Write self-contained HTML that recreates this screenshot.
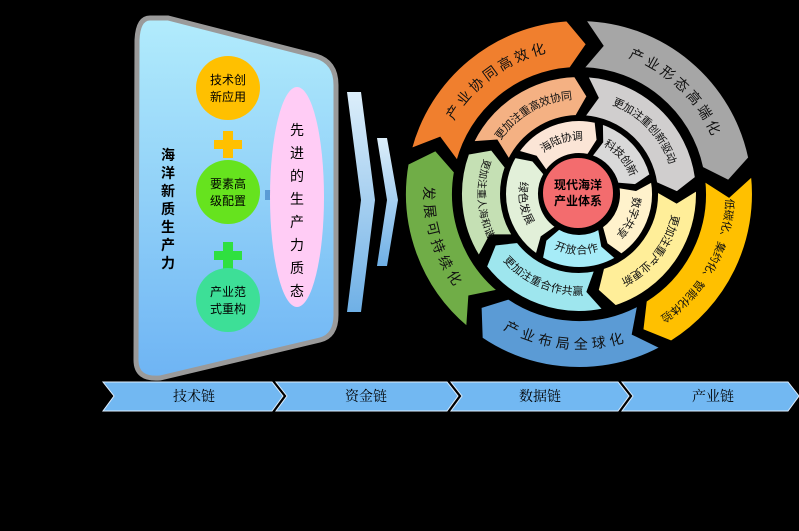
<!DOCTYPE html>
<html><head><meta charset="utf-8"><style>
html,body{margin:0;padding:0;background:#000;}
svg{display:block;font-family:"Liberation Sans","Noto Sans CJK SC",sans-serif;}
</style></head><body>
<svg id="s" width="799" height="531" viewBox="0 0 799 531" xmlns="http://www.w3.org/2000/svg">
<defs>
<linearGradient id="lp" x1="0" y1="0" x2="0" y2="1"><stop offset="0" stop-color="#b2ecfc"/><stop offset="1" stop-color="#6eb4f4"/></linearGradient>
<linearGradient id="ch" x1="0" y1="0" x2="0" y2="1"><stop offset="0" stop-color="#dceefa"/><stop offset="1" stop-color="#6fb0e6"/></linearGradient>
</defs>
<rect width="799" height="531" fill="#000"/>
<path d="M150,18 Q138,18 137,40 L136,360 Q136,380 160,378 L320,340 Q336,336 336,315 L336,85 Q336,62 316,56 L168,18 Z" fill="url(#lp)" stroke="#9a9a9a" stroke-width="5"/>
<circle cx="228" cy="88" r="32" fill="#ffc000"/>
<text x="228" y="84" font-size="12" text-anchor="middle">技术创</text>
<text x="228" y="101" font-size="12" text-anchor="middle">新应用</text>
<rect x="214" y="140" width="28" height="9" fill="#ffc000"/><rect x="223" y="131" width="10" height="27" fill="#ffc000"/>
<circle cx="228" cy="192" r="32" fill="#66e31e"/>
<text x="228" y="188" font-size="12" text-anchor="middle">要素高</text>
<text x="228" y="205" font-size="12" text-anchor="middle">级配置</text>
<rect x="214" y="251" width="28" height="9" fill="#2fe040"/><rect x="223" y="242" width="10" height="27" fill="#2fe040"/>
<circle cx="228" cy="300" r="32" fill="#3ddf97"/>
<text x="228" y="296" font-size="12" text-anchor="middle">产业范</text>
<text x="228" y="313" font-size="12" text-anchor="middle">式重构</text>
<path d="M265,190 L272,190 L272,186 L278,195 L272,204 L272,200 L265,200 Z" fill="#5b9bd5"/>
<ellipse cx="297" cy="197" rx="27" ry="110" fill="#ffccf5"/>
<text font-size="14" text-anchor="middle"><tspan x="297" y="135">先</tspan><tspan x="297" y="158">进</tspan><tspan x="297" y="181">的</tspan><tspan x="297" y="204">生</tspan><tspan x="297" y="227">产</tspan><tspan x="297" y="250">力</tspan><tspan x="297" y="273">质</tspan><tspan x="297" y="296">态</tspan></text>
<text font-size="14" font-weight="bold" text-anchor="middle"><tspan x="168" y="160">海</tspan><tspan x="168" y="178">洋</tspan><tspan x="168" y="196">新</tspan><tspan x="168" y="214">质</tspan><tspan x="168" y="232">生</tspan><tspan x="168" y="250">产</tspan><tspan x="168" y="268">力</tspan></text>
<path d="M347,92 L361,92 L375,200 L361,312 L347,312 L361,200 Z" fill="url(#ch)"/>
<path d="M377,138 L387,138 L398,200 L387,266 L377,266 L387,200 Z" fill="url(#ch)"/>
<g fill="#72b8f2" stroke="#dfefff" stroke-width="1">
<path d="M103,382 L272,382 L283,396 L272,411 L103,411 L114,396 Z"/>
<path d="M276,382 L447,382 L458,396 L447,411 L276,411 L287,396 Z"/>
<path d="M451,382 L618,382 L629,396 L618,411 L451,411 L462,396 Z"/>
<path d="M622,382 L788,382 L799,396 L788,411 L622,411 L633,396 Z"/>
</g>
<g font-size="14" font-family="'Liberation Serif','Noto Serif CJK SC',serif" text-anchor="middle">
<text x="194" y="401">技术链</text><text x="366" y="401">资金链</text><text x="540" y="401">数据链</text><text x="713" y="401">产业链</text>
</g>
<g id="ring"></g>
<circle cx="578" cy="193" r="36" fill="#f36c6e" stroke="#000" stroke-width="2"/>
<text x="578" y="189" font-size="12" font-weight="bold" text-anchor="middle">现代海洋</text>
<text x="578" y="205" font-size="12" font-weight="bold" text-anchor="middle">产业体系</text>
</svg>
<script>
var cx=579,cy=194,NS="http://www.w3.org/2000/svg",g=document.getElementById("ring"),id=0;
function P(r,a){a=a*Math.PI/180;return (cx+r*Math.cos(a)).toFixed(1)+","+(cy+r*Math.sin(a)).toFixed(1);}
function seg(r1,r2,a0,a1,h,col,txt,fs,cw){
 if(a1<a0)a1+=360;var rm=(r1+r2)/2,lg=(a1-a0)>180?1:0;
 var d="M"+P(r2,a0)+" A"+r2+","+r2+" 0 "+lg+" 1 "+P(r2,a1)+" L"+P(rm,a1+h)+" L"+P(r1,a1)+" A"+r1+","+r1+" 0 "+lg+" 0 "+P(r1,a0)+" L"+P(rm,a0+h)+" Z";
 var p=document.createElementNS(NS,"path");p.setAttribute("d",d);p.setAttribute("fill",col);p.setAttribute("stroke","#000");p.setAttribute("stroke-width","2");g.appendChild(p);
 var tp=document.createElementNS(NS,"path"),i="tp"+(id++),b=a0+h*0.6,e=a1+h*0.3;
 tp.setAttribute("id",i);tp.setAttribute("fill","none");
 tp.setAttribute("d",cw?"M"+P(rm,b)+" A"+rm+","+rm+" 0 "+lg+" 1 "+P(rm,e):"M"+P(rm,e)+" A"+rm+","+rm+" 0 "+lg+" 0 "+P(rm,b));
 g.appendChild(tp);
 var t=document.createElementNS(NS,"text");t.setAttribute("font-size",fs);t.setAttribute("dominant-baseline","central");t.setAttribute("text-anchor","middle");t.setAttribute("fill","#111");
 var q=document.createElementNS(NS,"textPath");q.setAttribute("href","#"+i);q.setAttribute("startOffset","50%");q.textContent=txt;t.appendChild(q);g.appendChild(t);
}
seg(126,174,195,266,7,"#f07f2e","产 业 协 同 高 效 化",14,1);
seg(126,174,272,348,7,"#a6a6a6","产 业 形 态 高 端 化",14,1);
seg(126,174,354,58,7,"#ffc000","低碳化、集约化、智能化体验",11,1);
seg(126,174,62,124,7,"#5b9bd5","产 业 布 局 全 球 化",14,0);
seg(126,174,130,190,7,"#70ad47","发 展 可 持 续 化",14,0);
seg(78,118,206,268,7,"#f4b183","更加注重高效协同",11,1);
seg(78,118,274,352,7,"#d0cece","更加注重创新驱动",11,1);
seg(78,118,358,72,7,"#ffee99","更加注重产业更新",11,1);
seg(78,118,78,142,7,"#9ee6ee","更加注重合作共赢",11,0);
seg(78,118,148,200,7,"#c5e0b4","更加注重人海和谐",10,0);
seg(40,74,215,283,6,"#fbe5d6","海陆协调",11,1);
seg(40,74,288,345,6,"#d9d9d9","科技创新",11,1);
seg(40,74,350,55,6,"#fff2cc","数字共享",11,1);
seg(40,74,60,120,6,"#a6ecf8","开放合作",11,0);
seg(40,74,125,210,6,"#e2f0d9","绿色发展",11,0);
</script>
</body></html>
